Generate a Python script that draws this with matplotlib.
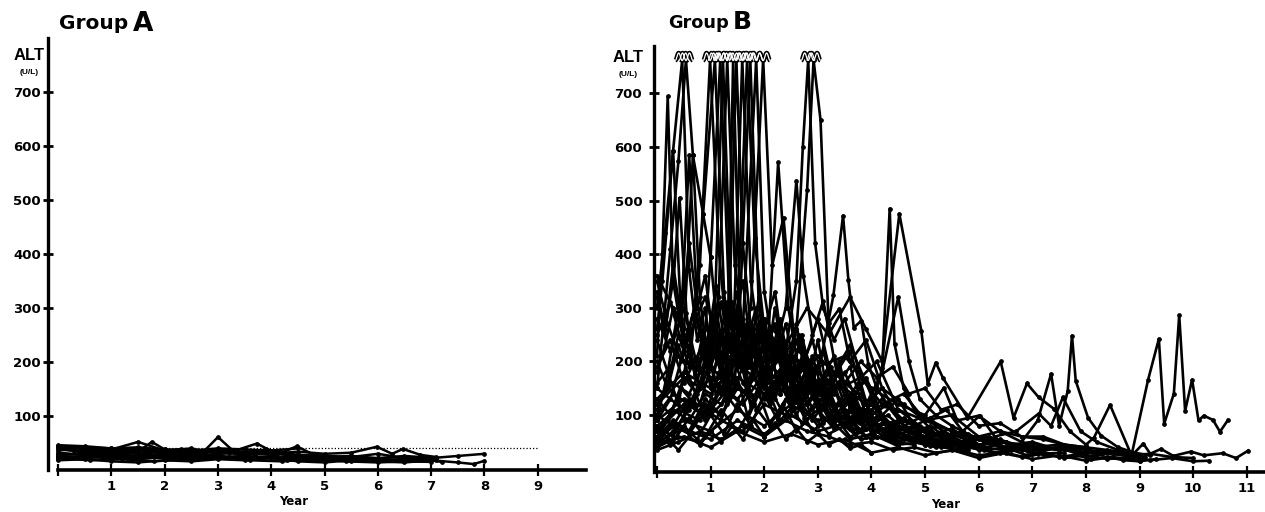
"""
ALT follow-up curves, Group A vs Group B.

Individual patient ALT (U/L) values against years of follow-up.
Values above the axis top are drawn clipped with a break mark.
"""

import numpy as np
import matplotlib.pyplot as plt
from matplotlib import font_manager

plt.rcParams['font.family'] = ['DejaVu Sans']
plt.rcParams['font.weight'] = 'bold'

# --- data: one list per patient (years, ALT in U/L) ---
GROUP_A_YEARS = [
    [0, 0.5, 1, 1.5, 2, 2.5, 3, 3.5, 4, 4.5, 5, 5.5, 6, 6.5, 7],
    [0, 0.5, 1, 1.5, 1.76, 2, 2.5, 3, 3.5, 4, 4.5, 5, 5.5, 6, 6.5, 7.1],
    [0, 0.5, 1, 1.5, 2, 2.5, 2.75, 3, 3.3, 3.7, 4, 4.5, 5, 5.5, 6, 6.5, 7],
    [0, 0.4, 0.8, 1.2, 1.6, 2, 2.4, 2.8, 3.2, 3.73, 4.1, 4.5, 5, 5.5, 6],
    [0, 0.5, 1, 1.5, 2, 2.5, 3, 3.5, 4, 4.48, 4.8, 5.2, 5.6, 6, 6.4, 6.8, 7.1],
    [0, 0.5, 1, 1.5, 2, 2.5, 3, 3.5, 4, 4.5, 5, 5.5, 6, 6.5, 7, 7.5, 7.8, 8],
    [0, 0.5, 1, 1.5, 2, 2.5, 3, 3.5, 4, 4.3, 4.6, 5, 5.5, 6, 6.5, 7],
    [0, 0.4, 0.9, 1.3, 1.8, 2.2, 2.7, 3.1, 3.6, 4, 4.4, 4.8],
    [0, 0.5, 1, 1.5, 2, 2.5, 3, 3.5, 4, 4.5, 5, 5.5, 6, 6.5, 7, 7.5, 8],
    [0, 0.6, 1.2, 1.8, 2.4, 3, 3.6, 4.2, 4.8, 5.4, 6, 6.5, 7, 7.2],
    [0, 0.5, 1, 1.5, 2, 2.5, 3, 3.5, 4, 4.5],
    [0, 0.5, 1, 1.5, 2, 2.5, 3, 3.5, 4, 4.5, 5, 5.5, 5.98, 6.27, 6.47, 6.8, 7.1],
    [0, 0.5, 1, 1.5, 2, 2.5, 3, 3.5, 4, 4.5, 5],
    [0, 0.3, 0.7, 1.1, 1.5, 1.9, 2.3, 2.7, 3.1, 3.5, 3.9, 4.3],
]
GROUP_A_ALT = [
    [44, 40, 38, 52, 36, 40, 30, 32, 34, 28, 26, 24, 30, 22, 20],
    [36, 42, 40, 34, 52, 38, 32, 36, 34, 30, 28, 24, 26, 22, 26, 22],
    [30, 28, 34, 30, 26, 28, 36, 61, 34, 30, 32, 26, 22, 20, 18, 16, 15],
    [40, 34, 30, 32, 36, 30, 34, 28, 32, 49, 30, 26, 24, 22, 20],
    [24, 22, 26, 20, 24, 22, 26, 22, 24, 44, 28, 24, 20, 22, 18, 20, 18],
    [18, 20, 16, 14, 18, 16, 20, 18, 22, 16, 14, 18, 16, 14, 18, 14, 11, 17],
    [32, 28, 30, 26, 30, 28, 24, 22, 26, 18, 24, 22, 20, 18, 20, 22],
    [26, 24, 28, 22, 26, 30, 26, 24, 20, 24, 22, 20],
    [28, 30, 26, 24, 22, 26, 22, 20, 22, 20, 18, 16, 18, 20, 22, 26, 30],
    [22, 18, 20, 16, 20, 22, 18, 16, 20, 16, 14, 16, 18, 15],
    [46, 44, 40, 42, 38, 36, 40, 38, 36, 40],
    [38, 34, 36, 30, 34, 30, 34, 28, 30, 34, 30, 32, 43, 30, 39, 28, 24],
    [20, 24, 22, 26, 24, 20, 24, 26, 22, 26, 24],
    [42, 36, 38, 34, 40, 36, 38, 34, 36, 32, 38, 30],
]

GROUP_B_YEARS = [
    [0.0, 0.1, 0.2, 0.3, 0.42, 0.55, 0.7, 0.85, 1.0, 1.15, 1.3, 1.5, 1.7, 1.9, 2.1, 2.35, 2.6, 2.9, 3.2, 3.5, 3.8, 4.1, 4.5, 5.0, 5.5],
    [0.0, 0.15, 0.3, 0.47, 0.6, 0.75, 0.9, 1.05, 1.2, 1.4, 1.6, 1.85, 2.1, 2.4, 2.7, 3.0, 3.3, 3.6, 4.0, 4.4, 4.8],
    [0.0, 0.12, 0.25, 0.4, 0.54, 0.67, 0.8, 0.95, 1.1, 1.3, 1.5, 1.75, 2.0, 2.3, 2.6, 2.9, 3.2, 3.6, 4.0, 4.5],
    [0.0, 0.2, 0.4, 0.6, 0.8, 0.99, 1.15, 1.3, 1.5, 1.7, 1.9, 2.15, 2.4, 2.7, 3.0, 3.3, 3.6, 3.9, 4.3, 4.7, 5.1, 5.5, 6.0],
    [0.0, 0.25, 0.5, 0.7, 0.86, 1.08, 1.25, 1.4, 1.6, 1.8, 2.0, 2.2, 2.45, 2.7, 3.0, 3.3, 3.7, 4.1, 4.5, 5.0, 5.5, 6.0, 6.5],
    [0.0, 0.2, 0.45, 0.7, 0.9, 1.0, 1.18, 1.35, 1.55, 1.75, 2.0, 2.25, 2.5, 2.8, 3.1, 3.4, 3.8, 4.2, 4.6, 5.0],
    [0.0, 0.3, 0.6, 0.85, 1.05, 1.23, 1.4, 1.6, 1.8, 2.05, 2.3, 2.6, 2.9, 3.2, 3.5, 3.9, 4.3, 4.8, 5.3, 5.8],
    [0.0, 0.2, 0.4, 0.6, 0.8, 1.0, 1.15, 1.31, 1.45, 1.65, 1.85, 2.1, 2.35, 2.6, 2.9, 3.2, 3.5, 3.8, 4.2, 4.6, 5.0, 5.5],
    [0.0, 0.3, 0.6, 0.9, 1.15, 1.3, 1.42, 1.55, 1.7, 1.9, 2.1, 2.35, 2.6, 2.85, 3.1, 3.4, 3.7, 4.0, 4.4, 4.8, 5.3, 5.8, 6.3, 6.8, 7.3],
    [0.0, 0.25, 0.5, 0.75, 1.0, 1.2, 1.35, 1.48, 1.6, 1.8, 2.0, 2.25, 2.5, 2.8, 3.1, 3.4, 3.7, 4.1, 4.5],
    [0.0, 0.3, 0.6, 0.9, 1.2, 1.4, 1.59, 1.75, 1.95, 2.2, 2.45, 2.7, 3.0, 3.3, 3.6, 3.9, 4.3, 4.7, 5.1, 5.6, 6.1, 6.6, 7.1, 7.6],
    [0.0, 0.2, 0.45, 0.7, 0.95, 1.2, 1.45, 1.68, 1.82, 2.0, 2.2, 2.4, 2.65, 2.9, 3.2, 3.5, 3.8, 4.1, 4.5, 4.9, 5.3],
    [0.0, 0.3, 0.6, 0.9, 1.2, 1.5, 1.74, 1.9, 2.1, 2.3, 2.55, 2.8, 3.05, 3.3, 3.6, 3.9, 4.2, 4.6, 5.0, 5.5, 6.0],
    [0.0, 0.25, 0.5, 0.8, 1.1, 1.35, 1.6, 1.85, 2.0, 2.2, 2.4, 2.65, 2.9, 3.15, 3.4, 3.7, 4.0, 4.4, 4.8, 5.2, 5.7, 6.2],
    [0.0, 0.3, 0.6, 0.9, 1.2, 1.5, 1.75, 1.98, 2.15, 2.36, 2.55, 2.75, 3.0, 3.3, 3.6, 3.9, 4.2, 4.6, 5.0, 5.4],
    [0.0, 0.3, 0.6, 0.9, 1.2, 1.5, 1.8, 2.05, 2.26, 2.45, 2.65, 2.9, 3.15, 3.4, 3.7, 4.0, 4.3, 4.7, 5.1, 5.5, 6.0, 6.5, 7.0, 7.5, 8.0],
    [0.0, 0.25, 0.5, 0.75, 1.0, 1.3, 1.6, 1.9, 2.2, 2.4, 2.6, 2.73, 2.9, 3.1, 3.35, 3.6, 3.9, 4.2, 4.6, 5.0, 5.5, 6.0],
    [0.0, 0.3, 0.6, 0.9, 1.2, 1.5, 1.8, 2.1, 2.4, 2.6, 2.72, 2.82, 2.95, 3.1, 3.3, 3.5, 3.8, 4.1, 4.5, 4.9, 5.3, 5.8],
    [0.0, 0.3, 0.6, 0.9, 1.2, 1.5, 1.8, 2.1, 2.4, 2.6, 2.8, 2.92, 3.05, 3.2, 3.4, 3.6, 3.9, 4.2, 4.6, 5.0, 5.5, 6.0, 6.5],
    [0.0, 0.4, 0.8, 1.2, 1.6, 2.0, 2.4, 2.8, 3.05, 3.29, 3.47, 3.57, 3.67, 3.81, 3.94, 4.1, 4.3, 4.6, 5.0, 5.4, 5.8, 6.2],
    [0.0, 0.4, 0.8, 1.2, 1.6, 2.0, 2.4, 2.8, 3.2, 3.6, 4.04, 4.2, 4.34, 4.43, 4.6, 4.8, 5.1, 5.5, 5.9, 6.3, 6.8, 7.3, 7.8, 8.3, 8.8, 9.1],
    [0.0, 0.4, 0.8, 1.2, 1.6, 2.0, 2.4, 2.8, 3.2, 3.6, 3.9, 4.2, 4.52, 4.93, 5.05, 5.2, 5.33, 5.79, 6.41, 6.65,
     6.9, 7.12, 7.4, 7.7, 8.0, 8.15, 8.45, 8.85, 9.16, 9.36, 9.46, 9.64, 9.74, 9.85, 9.98, 10.1, 10.2, 10.37, 10.5, 10.65],
    [0.0, 0.5, 1.0, 1.5, 2.0, 2.5, 3.0, 3.5, 3.9, 4.2, 4.5, 4.7, 4.9, 5.2, 5.5, 5.9, 6.3, 6.7, 7.1, 7.5],
    [0.0, 0.5, 1.0, 1.5, 2.0, 2.5, 3.0, 3.5, 4.0, 4.5, 5.0, 5.5, 6.0, 6.4, 6.8, 7.1, 7.35, 7.5, 7.66, 7.74, 7.81, 8.04, 8.28, 8.6, 8.9, 9.2],
    [0.0, 0.5, 1.0, 1.5, 2.0, 2.5, 3.0, 3.5, 4.0, 4.5, 5.0, 5.35, 5.6, 6.0, 6.4, 6.8, 7.2, 7.6, 8.0, 8.4, 8.8],
    [0.0, 0.5, 1.0, 1.5, 2.0, 2.5, 3.0, 3.5, 4.0, 4.5, 5.0, 5.5, 6.0, 6.5, 7.0, 7.5, 8.0, 8.5, 9.0, 9.3],
    [0.0, 0.4, 0.8, 1.2, 1.6, 2.0, 2.4, 2.8, 3.2, 3.6, 4.0, 4.4, 4.8, 5.2, 5.6, 6.0, 6.4, 6.8, 7.2, 7.6, 8.0, 8.4, 8.8, 9.2, 9.6, 10.0, 10.3],
    [0.0, 0.5, 1.0, 1.5, 2.0, 2.5, 3.0, 3.5, 4.0, 4.5, 5.0, 5.5, 6.0, 6.5, 7.0, 7.5, 8.0, 8.5, 8.85, 9.07, 9.2, 9.4, 9.63, 9.96, 10.2, 10.55, 10.8, 11.03],
    [0.0, 0.3, 0.6, 0.9, 1.2, 1.5, 1.8, 2.1, 2.4, 2.7, 3.0, 3.3, 3.6, 3.9, 4.2, 4.5, 4.8, 5.1, 5.4, 5.7, 6.0, 6.4, 6.8, 7.2, 7.6, 8.0, 8.4, 8.8, 9.2, 9.6, 10.0],
    [0.0, 0.3, 0.6, 0.9, 1.2, 1.5, 1.8, 2.1, 2.4, 2.7, 3.0, 3.3, 3.6, 3.9, 4.2, 4.5, 4.8, 5.1, 5.4, 5.7, 6.0, 6.3, 6.6, 6.9, 7.2],
    [0.0, 0.25, 0.5, 0.75, 1.0, 1.25, 1.5, 1.75, 2.0, 2.25, 2.5, 2.75, 3.0, 3.25, 3.5, 3.75, 4.0, 4.3, 4.6, 4.9, 5.2, 5.5, 5.8, 6.2, 6.6, 7.0, 7.4, 7.8, 8.2, 8.6, 9.0],
    [0.0, 0.15, 0.3, 0.45, 0.6, 0.75, 0.9, 1.05, 1.2, 1.35, 1.5, 1.7, 1.9, 2.1, 2.3, 2.5],
    [0.0, 0.2, 0.4, 0.6, 0.8, 1.0, 1.2, 1.4, 1.6, 1.8, 2.0, 2.2, 2.4, 2.6, 2.8, 3.0, 3.2, 3.4, 3.6, 3.8, 4.0],
    [0.0, 0.2, 0.4, 0.6, 0.8, 1.0, 1.2, 1.4, 1.6, 1.8, 2.0, 2.2, 2.4, 2.6, 2.8, 3.0, 3.2, 3.4, 3.6, 3.8, 4.0, 4.3, 4.6, 4.9, 5.2, 5.5, 5.8, 6.1, 6.4, 6.7, 7.0, 7.3, 7.6, 7.9, 8.2],
    [0.0, 0.3, 0.6, 0.9, 1.2, 1.5, 1.8, 2.1, 2.4, 2.7, 3.0, 3.3, 3.6, 3.9, 4.2, 4.5, 4.8, 5.1, 5.4, 5.7, 6.0, 6.3, 6.6, 6.9, 7.2, 7.5, 7.8, 8.1, 8.4, 8.7, 9.0],
    [0.0, 0.1, 0.3, 0.45, 0.6, 0.75, 0.9, 1.1, 1.3, 1.5, 1.7, 1.9, 2.1, 2.3, 2.5, 2.7, 2.9, 3.1, 3.3],
    [0.0, 0.15, 0.3, 0.5, 0.67, 0.86, 1.0, 1.15, 1.3, 1.5, 1.7, 1.9, 2.1, 2.3, 2.5, 2.8, 3.1, 3.4, 3.7],
    [0.0, 0.5, 1.0, 1.5, 2.0, 2.5, 3.0, 3.5, 3.8, 4.1, 4.4, 4.7, 5.0, 5.3, 5.6, 6.0, 6.4, 6.8, 7.2, 7.6, 8.0],
    [0.0, 0.5, 1.0, 1.5, 2.0, 2.5, 3.0, 3.4, 3.8, 4.2, 4.6, 5.0, 5.4, 5.7, 6.02, 6.3, 6.7, 7.12, 7.35, 7.57, 7.9, 8.2, 8.6, 9.0],
    [0.0, 0.5, 1.0, 1.5, 2.0, 2.5, 3.0, 3.5, 4.0, 4.5, 5.0, 5.5, 6.0, 6.5, 7.0, 7.5, 8.0, 8.5, 9.0],
    [0.0, 0.15, 0.3, 0.5, 0.7, 0.9, 1.1, 1.3, 1.5, 1.7, 1.9, 2.1, 2.3, 2.5, 2.7, 2.9, 3.1, 3.3, 3.5, 3.8, 4.1],
    [0.0, 0.2, 0.4, 0.6, 0.8, 1.0, 1.2, 1.4, 1.6, 1.8, 2.0, 2.2, 2.4, 2.6, 2.8, 3.0, 3.2, 3.4, 3.6, 3.8, 4.0, 4.3, 4.6],
    [0.0, 0.25, 0.5, 0.75, 1.0, 1.25, 1.5, 1.75, 2.0, 2.25, 2.5, 2.75, 3.0, 3.25, 3.5, 3.75, 4.0, 4.4, 4.8, 5.2],
]
GROUP_B_ALT = [
    [210, 400, 694, 340, 505, 290, 175, 250, 150, 220, 120, 170, 95, 140, 85, 120, 70, 100, 65, 80, 55, 60, 45, 50, 38],
    [300, 440, 593, 1200, 370, 240, 300, 170, 250, 140, 190, 110, 150, 95, 120, 80, 100, 60, 75, 50, 45],
    [150, 270, 410, 574, 1100, 584, 320, 200, 270, 150, 230, 115, 165, 90, 125, 70, 95, 55, 65, 42],
    [110, 160, 250, 190, 380, 1300, 410, 250, 330, 190, 270, 140, 210, 120, 165, 95, 135, 75, 100, 65, 80, 50, 45],
    [90, 130, 220, 300, 475, 1000, 330, 200, 280, 170, 240, 130, 200, 110, 150, 85, 110, 70, 80, 55, 50, 40, 35],
    [60, 90, 150, 120, 260, 394, 1150, 300, 190, 260, 150, 210, 120, 160, 90, 120, 70, 85, 55, 45],
    [45, 70, 110, 160, 210, 1050, 260, 350, 180, 250, 140, 190, 110, 140, 80, 95, 60, 55, 40, 35],
    [240, 180, 300, 210, 150, 240, 320, 1100, 380, 230, 300, 170, 240, 130, 180, 100, 140, 85, 95, 60, 55, 40],
    [80, 60, 120, 95, 180, 140, 950, 280, 160, 220, 130, 180, 100, 150, 85, 120, 65, 90, 55, 60, 45, 40, 30, 35, 25],
    [130, 100, 170, 140, 230, 180, 300, 1250, 420, 210, 280, 160, 220, 120, 170, 90, 115, 60, 50],
    [50, 80, 65, 110, 90, 160, 1000, 350, 200, 270, 140, 200, 110, 150, 75, 110, 60, 70, 45, 50, 35, 40, 28, 30],
    [350, 270, 200, 300, 180, 250, 150, 1150, 430, 260, 330, 180, 250, 140, 190, 100, 140, 80, 90, 60, 50],
    [70, 110, 90, 140, 120, 190, 1050, 300, 180, 240, 130, 190, 110, 150, 90, 110, 70, 75, 50, 45, 38],
    [190, 240, 160, 220, 140, 200, 260, 1100, 330, 200, 270, 150, 210, 120, 160, 90, 120, 70, 80, 55, 50, 40],
    [100, 140, 120, 180, 150, 210, 300, 1100, 380, 468, 250, 200, 280, 150, 190, 100, 130, 80, 60, 45],
    [60, 90, 70, 130, 100, 160, 120, 200, 571, 300, 180, 240, 140, 180, 100, 130, 80, 90, 60, 65, 45, 50, 35, 40, 30],
    [280, 220, 300, 190, 260, 170, 230, 150, 220, 300, 537, 360, 250, 313, 180, 220, 120, 150, 80, 70, 50, 40],
    [120, 160, 140, 200, 170, 230, 180, 250, 220, 350, 600, 1200, 420, 300, 240, 280, 170, 200, 110, 80, 60, 45],
    [55, 85, 70, 120, 100, 150, 130, 190, 170, 260, 520, 1000, 650, 271, 298, 200, 240, 150, 120, 90, 70, 55, 40],
    [40, 60, 50, 90, 70, 120, 100, 150, 200, 323, 472, 351, 263, 276, 196, 150, 120, 90, 70, 55, 45, 35],
    [70, 110, 90, 150, 120, 180, 140, 200, 160, 230, 127, 188, 485, 233, 150, 110, 90, 70, 60, 50, 45, 38, 32, 28, 25, 22],
    [160, 210, 180, 250, 200, 280, 230, 300, 250, 320, 260, 200, 475, 257, 158, 198, 170, 95, 200, 95,
     159, 133, 112, 70, 45, 58, 119, 25, 166, 242, 84, 140, 286, 108, 166, 90, 99, 91, 69, 91],
    [90, 130, 110, 170, 140, 200, 160, 150, 120, 180, 320, 200, 130, 100, 80, 60, 55, 45, 40, 35],
    [80, 120, 100, 150, 130, 170, 140, 160, 120, 110, 90, 100, 60, 70, 50, 90, 177, 80, 145, 248, 164, 95, 62, 40, 30, 25],
    [130, 180, 150, 210, 170, 230, 190, 210, 150, 120, 100, 151, 90, 99, 70, 60, 55, 45, 40, 35, 30],
    [45, 60, 40, 70, 50, 65, 45, 55, 30, 40, 25, 35, 20, 30, 18, 25, 15, 22, 14, 18],
    [35, 50, 70, 55, 80, 60, 90, 70, 60, 45, 50, 35, 40, 30, 35, 25, 30, 22, 28, 20, 25, 18, 22, 16, 20, 14, 15],
    [60, 90, 70, 110, 80, 120, 90, 100, 70, 80, 60, 65, 45, 50, 40, 45, 35, 30, 24, 47, 28, 37, 24, 32, 25, 29, 20, 34],
    [100, 80, 130, 90, 150, 110, 170, 120, 180, 130, 160, 110, 140, 90, 100, 70, 80, 60, 65, 50, 55, 40, 45, 35, 40, 30, 32, 25, 28, 22, 20],
    [360, 300, 250, 320, 210, 280, 190, 260, 170, 240, 150, 210, 120, 170, 100, 130, 80, 95, 60, 70, 45, 50, 35, 40, 30],
    [250, 310, 220, 280, 190, 260, 200, 270, 180, 240, 160, 220, 140, 190, 120, 160, 100, 120, 80, 95, 65, 75, 55, 60, 45, 50, 38, 40, 32, 30, 25],
    [320, 250, 380, 280, 420, 300, 360, 240, 310, 220, 290, 200, 250, 180, 220, 160],
    [40, 55, 35, 60, 45, 70, 50, 80, 55, 90, 60, 85, 55, 75, 50, 65, 45, 55, 38, 45, 30],
    [200, 150, 230, 170, 120, 190, 140, 210, 160, 130, 180, 150, 200, 140, 170, 120, 150, 100, 130, 90, 110, 80, 95, 70, 80, 60, 65, 50, 55, 42, 48, 38, 40, 30, 28],
    [75, 50, 95, 60, 110, 70, 120, 80, 130, 85, 110, 75, 95, 60, 75, 50, 60, 42, 50, 36, 42, 30, 36, 25, 30, 22, 26, 18, 22, 16, 14],
    [260, 350, 593, 280, 584, 310, 220, 300, 180, 260, 150, 220, 130, 180, 110, 150, 90, 120, 80],
    [180, 230, 300, 250, 584, 475, 394, 230, 310, 200, 270, 170, 230, 140, 190, 120, 150, 90, 100],
    [150, 110, 170, 130, 190, 140, 210, 160, 200, 170, 190, 140, 150, 110, 120, 80, 85, 60, 60, 45, 40],
    [120, 170, 140, 200, 150, 210, 180, 150, 170, 120, 140, 90, 110, 70, 99, 60, 70, 103, 80, 133, 70, 50, 35, 25],
    [50, 75, 55, 90, 65, 100, 70, 85, 55, 70, 45, 60, 35, 50, 28, 40, 22, 30, 18],
    [330, 260, 350, 230, 300, 200, 340, 210, 290, 190, 320, 200, 280, 170, 250, 160, 220, 140, 180, 110, 80],
    [90, 180, 120, 230, 150, 280, 170, 310, 190, 260, 160, 300, 180, 270, 150, 240, 130, 200, 110, 160, 90, 70, 55],
    [60, 45, 80, 55, 100, 65, 120, 80, 140, 90, 150, 95, 130, 85, 110, 70, 90, 60, 50, 40],
]

Y_TICKS = [100, 200, 300, 400, 500, 600, 700]
A_YEAR_TICKS = list(range(0, 10))
B_YEAR_TICKS = list(range(0, 12))
NORMAL_ALT = 40        # dotted upper normal limit in group A
NORMAL_ALT_END = 9
CLIP_ALT = 762         # values above this are off the scale

FIG_W, FIG_H = 1265, 512


def narrow_family():
    names = {f.name for f in font_manager.fontManager.ttflist}
    return 'Liberation Sans Narrow' if 'Liberation Sans Narrow' in names else 'Liberation Sans'


def draw_break(ax, t):
    """Small double wave where a curve leaves the top of the scale."""
    xs = np.linspace(t - 0.13, t + 0.13, 40)
    ys = CLIP_ALT + 6 - 7 * np.cos(2 * np.pi * (xs - t) / 0.13)
    ax.plot(xs, ys, color='black', lw=3.2, solid_capstyle='butt', zorder=5, clip_on=False)
    ax.plot(xs, ys, color='white', lw=0.9, solid_capstyle='butt', zorder=6, clip_on=False)


def draw_curves(ax, years_list, alt_list, lw):
    for years, alt in zip(years_list, alt_list):
        years = np.asarray(years, dtype=float)
        alt = np.asarray(alt, dtype=float)
        if len(years) != len(alt):
            raise ValueError(f"length mismatch {len(years)} vs {len(alt)}")
        ax.plot(years, np.minimum(alt, CLIP_ALT), color='black', lw=lw,
                marker='o', ms=2.4, solid_joinstyle='round', zorder=3, clip_on=False)
        for t, v in zip(years, alt):
            if v > CLIP_ALT:
                draw_break(ax, t)


def style_axis(ax, year_ticks, x_end, ypad):
    for side in ['top', 'right']:
        ax.spines[side].set_visible(False)
    ax.spines['left'].set_linewidth(2.4)
    ax.spines['bottom'].set_linewidth(2.6)
    ax.spines['bottom'].set_bounds(0, x_end)

    ax.set_yticks(Y_TICKS)
    ax.set_yticklabels([str(v) for v in Y_TICKS])
    ax.set_xticks(year_ticks)
    ax.set_xticklabels([''] + [str(v) for v in year_ticks[1:]])
    ax.tick_params(axis='y', direction='inout', length=7, width=2, pad=ypad, labelsize=9.5)
    ax.tick_params(axis='x', direction='inout', length=8, width=1.6, pad=3, labelsize=9.5)
    ax.set_xlabel('Year', fontsize=8.5, fontweight='bold')


def main():
    fig = plt.figure(figsize=(FIG_W / 100, FIG_H / 100), dpi=100)

    # Group A panel
    ax_a = fig.add_axes([48 / FIG_W, 42 / FIG_H, 543 / FIG_W, 432 / FIG_H])
    ax_a.set_xlim(-0.19, 10.0)
    ax_a.set_ylim(0, 800)
    draw_curves(ax_a, GROUP_A_YEARS, GROUP_A_ALT, lw=1.8)
    ax_a.plot([0, NORMAL_ALT_END], [NORMAL_ALT, NORMAL_ALT], color='black',
              lw=0.9, ls=(0, (1, 1.6)), zorder=2)
    style_axis(ax_a, A_YEAR_TICKS, 9.9, ypad=1.5)
    ax_a.xaxis.set_label_coords((294 - 48) / 543, -0.058)

    # Group B panel
    ax_b = fig.add_axes([654 / FIG_W, 40 / FIG_H, 611 / FIG_W, 426 / FIG_H])
    ax_b.set_xlim(-0.056, 11.34)
    ax_b.set_ylim(-6, 788)
    draw_curves(ax_b, GROUP_B_YEARS, GROUP_B_ALT, lw=1.9)
    style_axis(ax_b, B_YEAR_TICKS, 11.34, ypad=5)
    ax_b.xaxis.set_label_coords((946 - 654) / 611, -0.060)

    # titles and axis captions
    fig.text(59 / FIG_W, 1 - 29 / FIG_H, 'Group', fontsize=14.5, fontweight='bold', va='baseline')
    fig.text(133 / FIG_W, 1 - 31 / FIG_H, 'A', fontsize=19, fontweight='bold', va='baseline')
    fig.text(668 / FIG_W, 1 - 28 / FIG_H, 'Group', fontsize=12.8, fontweight='bold', va='baseline')
    fig.text(733 / FIG_W, 1 - 29 / FIG_H, 'B', fontsize=18, fontweight='bold', va='baseline')

    narrow = narrow_family()
    for x_px, y_px in [(29, 56), (628, 58)]:
        fig.text(x_px / FIG_W, 1 - y_px / FIG_H, 'ALT', family=narrow, fontsize=12,
                 fontweight='bold', ha='center', va='center')
        fig.text(x_px / FIG_W, 1 - (y_px + 16) / FIG_H, '(U/L)', family=narrow, fontsize=6,
                 fontweight='bold', ha='center', va='center')

    fig.savefig('out.png', dpi=100)
    plt.close(fig)


if __name__ == "__main__":
    main()
